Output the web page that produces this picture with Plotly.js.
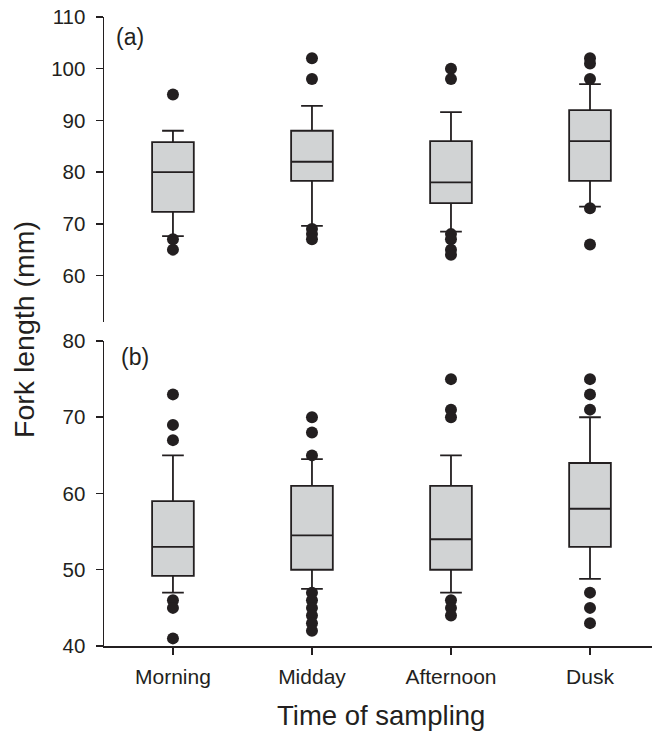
<!DOCTYPE html>
<html>
<head>
<meta charset="utf-8">
<script src="https://cdn.plot.ly/plotly-3.0.1.min.js"></script>
<style>html,body{margin:0;padding:0;background:#fff;}</style>
</head>
<body>
<div id="chart" style="width:652px;height:732px;"></div>
<script>
const categories = ['Morning', 'Midday', 'Afternoon', 'Dusk'];

// Panel (a)
const aQ1 = [72.3, 78.3, 74, 78.3];
const aMedian = [80, 82, 78, 86];
const aQ3 = [85.8, 88, 86, 92];
const aLowerWhisker = [67.6, 69.6, 68.5, 73.3];
const aUpperWhisker = [88, 92.8, 91.6, 97];
const aOutliers = [
  [95, 67, 65],
  [102, 98, 69, 68, 67],
  [100, 98, 68, 67, 65, 64],
  [102, 101, 98, 73, 66]
];

// Panel (b)
const bQ1 = [49.2, 50, 50, 53];
const bMedian = [53, 54.5, 54, 58];
const bQ3 = [59, 61, 61, 64];
const bLowerWhisker = [47, 47.5, 47, 48.8];
const bUpperWhisker = [65, 64.5, 65, 70];
const bOutliers = [
  [73, 69, 67, 46, 45, 41],
  [70, 68, 65, 47, 46, 45, 44, 43, 42],
  [75, 71, 70, 46, 45, 44],
  [75, 73, 71, 47, 45, 43]
];

const ink = '#231f20';
const fill = '#d1d3d4';
const font = 'Liberation Sans, Arial, sans-serif';

function flatten(outs) {
  const xs = [], ys = [];
  outs.forEach((arr, i) => arr.forEach(v => { xs.push(categories[i]); ys.push(v); }));
  return {xs, ys};
}

function boxTrace(q1, med, q3, lo, hi, yaxis) {
  return {
    type: 'box', x: categories, q1: q1, median: med, q3: q3,
    lowerfence: lo, upperfence: hi,
    xaxis: 'x', yaxis: yaxis,
    fillcolor: fill, line: {color: ink, width: 1.8},
    width: 0.3, whiskerwidth: 0.52, boxpoints: false,
    showlegend: false, hoverinfo: 'skip'
  };
}
function outTrace(outs, yaxis) {
  const f = flatten(outs);
  return {
    type: 'scatter', mode: 'markers', x: f.xs, y: f.ys,
    xaxis: 'x', yaxis: yaxis,
    marker: {size: 12, color: ink},
    showlegend: false, hoverinfo: 'skip'
  };
}

const data = [
  boxTrace(aQ1, aMedian, aQ3, aLowerWhisker, aUpperWhisker, 'y2'),
  outTrace(aOutliers, 'y2'),
  boxTrace(bQ1, bMedian, bQ3, bLowerWhisker, bUpperWhisker, 'y'),
  outTrace(bOutliers, 'y')
];

const yCommon = {
  showline: true, linecolor: ink, linewidth: 1.5,
  ticks: 'outside', ticklen: 7, tickwidth: 1.5, tickcolor: ink,
  tickfont: {family: font, size: 20.5, color: ink},
  ticklabelstandoff: 6,
  showgrid: false, zeroline: false, anchor: 'x', fixedrange: true
};

const layout = {
  width: 652, height: 732,
  margin: {l: 104, r: 0, t: 17, b: 86},
  paper_bgcolor: '#fff', plot_bgcolor: '#fff',
  font: {family: font, color: ink},
  showlegend: false,
  xaxis: {
    type: 'category', categoryorder: 'array', categoryarray: categories,
    range: [-0.496, 3.446],
    showline: true, linecolor: ink, linewidth: 1.5,
    ticks: 'outside', ticklen: 7, tickwidth: 1.5, tickcolor: ink,
    tickfont: {family: font, size: 21, color: ink},
    ticklabelstandoff: 4,
    showgrid: false, zeroline: false, anchor: 'y', fixedrange: true
  },
  yaxis: Object.assign({}, yCommon, {
    domain: [0, 0.4849], range: [40, 80], tickvals: [40, 50, 60, 70, 80]
  }),
  yaxis2: Object.assign({}, yCommon, {
    domain: [0.5151, 1], range: [51, 110], tickvals: [60, 70, 80, 90, 100, 110]
  }),
  annotations: [
    {text: '(a)', xref: 'paper', yref: 'paper', x: 0.0474, y: 0.968,
     xanchor: 'center', yanchor: 'middle',
     showarrow: false, font: {family: font, size: 23, color: ink}},
    {text: '(b)', xref: 'paper', yref: 'paper', x: 0.0566, y: 0.4595,
     xanchor: 'center', yanchor: 'middle',
     showarrow: false, font: {family: font, size: 23, color: ink}},
    {text: 'Fork length (mm)', xref: 'paper', yref: 'paper', x: -0.146, y: 0.504,
     xanchor: 'center', yanchor: 'middle',
     textangle: -90, showarrow: false, font: {family: font, size: 28.5, color: ink}},
    {text: 'Time of sampling', xref: 'paper', yref: 'paper', x: 0.5055, y: -0.111,
     xanchor: 'center', yanchor: 'middle',
     showarrow: false, font: {family: font, size: 27.5, color: ink}}
  ]
};

Plotly.newPlot('chart', data, layout, {displayModeBar: false, staticPlot: true});
</script>
</body>
</html>
